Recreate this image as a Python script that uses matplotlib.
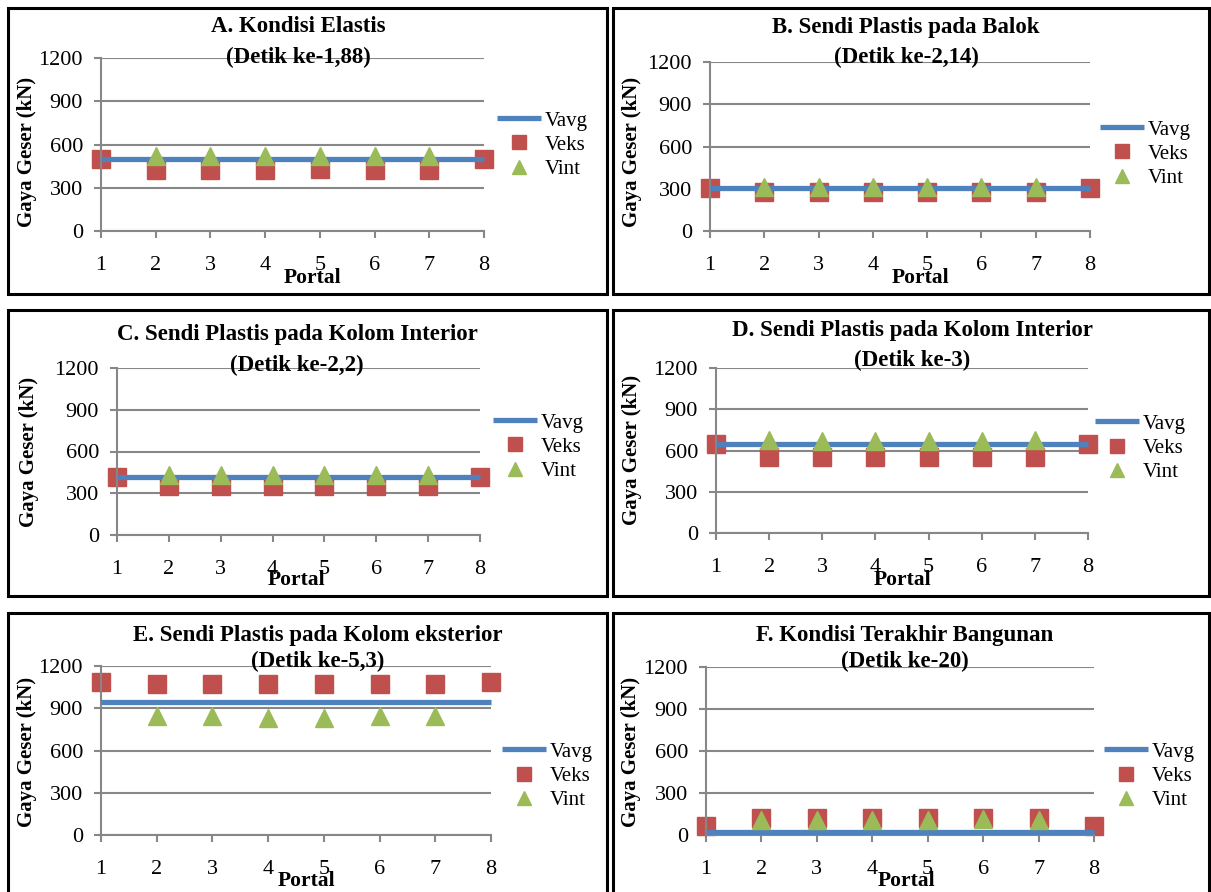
import numpy as np
import matplotlib
matplotlib.use("Agg")
import matplotlib.pyplot as plt
from matplotlib.patches import Rectangle

plt.rcParams['font.family'] = ['Liberation Serif', 'DejaVu Serif']

# -----------------------------
# Data
# -----------------------------
portal = [1, 2, 3, 4, 5, 6, 7, 8]
portal_int = [2, 3, 4, 5, 6, 7]

titles = [
    "A. Kondisi Elastis",
    "B. Sendi Plastis pada Balok",
    "C. Sendi Plastis pada Kolom Interior",
    "D. Sendi Plastis pada Kolom Interior",
    "E. Sendi Plastis pada Kolom eksterior",
    "F. Kondisi Terakhir Bangunan",
]
subtitles = [
    "(Detik ke-1,88)",
    "(Detik ke-2,14)",
    "(Detik ke-2,2)",
    "(Detik ke-3)",
    "(Detik ke-5,3)",
    "(Detik ke-20)",
]

vavg_a = [500, 500, 500, 500, 500, 500, 500, 500]
veks_a = [497, 425, 425, 425, 432, 425, 425, 497]
vint_a = [520, 520, 520, 520, 520, 520]

vavg_b = [302, 302, 302, 302, 302, 302, 302, 302]
veks_b = [302, 276, 276, 276, 276, 276, 276, 302]
vint_b = [309, 309, 309, 309, 309, 309]

vavg_c = [420, 420, 420, 420, 420, 420, 420, 420]
veks_c = [420, 355, 355, 355, 355, 355, 355, 420]
vint_c = [431, 431, 431, 431, 431, 431]

vavg_d = [645, 645, 645, 645, 645, 645, 645, 645]
veks_d = [645, 555, 555, 555, 555, 555, 555, 645]
vint_d = [675, 672, 670, 670, 670, 675]

vavg_e = [947, 947, 947, 947, 947, 947, 947, 947]
veks_e = [1087, 1072, 1072, 1070, 1072, 1072, 1072, 1089]
vint_e = [843, 843, 831, 831, 843, 843]

vavg_f = [19, 19, 19, 19, 19, 19, 19, 19]
veks_f = [66, 118, 118, 118, 118, 118, 118, 66]
vint_f = [106, 110, 106, 106, 113, 106]

yticks = [0, 300, 600, 900, 1200]

series = [
    (vavg_a, veks_a, vint_a),
    (vavg_b, veks_b, vint_b),
    (vavg_c, veks_c, vint_c),
    (vavg_d, veks_d, vint_d),
    (vavg_e, veks_e, vint_e),
    (vavg_f, veks_f, vint_f),
]

# -----------------------------
# Layout in pixels (width 1211, height 892)
# -----------------------------
W, H = 1211, 892
# box: left, top, right, bottom
boxes = [(8, 8, 607, 294), (613, 8, 1209, 294),
         (8, 310, 607, 596), (613, 310, 1209, 596),
         (8, 613, 607, 905), (613, 613, 1209, 905)]
# axes: x of portal 1, x of portal 8, y of 0, y of 1200
axes_px = [(101, 484, 231, 58), (710, 1090, 231, 62),
           (117, 480, 535, 368), (716, 1088, 533, 368),
           (101, 491, 835, 666), (706, 1094, 835, 667)]
# title centres: x, y line 1, y line 2
title_px = [(298, 27, 57), (906, 27, 57),
            (297, 334, 365), (912, 330, 360),
            (318, 636, 661), (905, 636, 661)]
ylabel_px = [(27, 152), (632, 152), (29, 452), (632, 450), (27, 752), (631, 752)]
xlabel_px = [(312, 278), (921, 278), (297, 580), (903, 580), (307, 881), (907, 881)]
legend_px = [(497, 145), (1100, 154), (493, 447), (1095, 448), (502, 776), (1104, 776)]

blue = '#4F81BD'
red = '#C0504D'
green = '#9BBB59'
grid_c = '#878787'


def fx(x):
    return x / W


def fy(y):
    return 1 - y / H


fig = plt.figure(figsize=(W / 100, H / 100), dpi=100)
fig.patch.set_facecolor('white')

for i in range(6):
    l, t, r, b = boxes[i]
    fig.patches.append(Rectangle((fx(l), fy(b)), fx(r - l), (b - t) / H,
                                 transform=fig.transFigure, fill=False,
                                 edgecolor='black', linewidth=2.2, zorder=0))

    x0, x1, y0, y1 = axes_px[i]
    ax = fig.add_axes([fx(x0), fy(y0), fx(x1 - x0), (y0 - y1) / H])
    vavg, veks, vint = series[i]

    ax.plot(portal, vavg, color=blue, linewidth=3.8, label='Vavg',
            solid_capstyle='butt', zorder=3, clip_on=False)
    ax.plot(portal, veks, linestyle='none', marker='s', markersize=12.5,
            color=red, label='Veks', zorder=2, clip_on=False)
    ax.plot(portal_int, vint, linestyle='none', marker='^', markersize=13.5,
            color=green, label='Vint', zorder=4, clip_on=False)

    ax.set_xlim(1, 8)
    ax.set_ylim(0, 1200)
    ax.set_xticks(portal)
    ax.set_yticks(yticks)
    ax.yaxis.grid(True, color=grid_c, linewidth=1.5)
    ax.set_axisbelow(True)
    for s in ['top', 'right']:
        ax.spines[s].set_visible(False)
    for s in ['left', 'bottom']:
        ax.spines[s].set_color(grid_c)
        ax.spines[s].set_linewidth(1.5)
    ax.tick_params(axis='x', direction='out', length=5, width=1.5,
                   color=grid_c, pad=13, labelsize=16)
    ax.tick_params(axis='y', direction='out', length=5, width=1.5,
                   color=grid_c, pad=8, labelsize=16)

    tx, ty1, ty2 = title_px[i]
    fig.text(fx(tx), fy(ty1), titles[i], ha='center', va='center',
             fontsize=16.5, fontweight='bold')
    fig.text(fx(tx), fy(ty2), subtitles[i], ha='center', va='center',
             fontsize=16.5, fontweight='bold')

    lx, ly = ylabel_px[i]
    fig.text(fx(lx), fy(ly), 'Gaya Geser (kN)', rotation=90, ha='center',
             va='center', fontsize=15, fontweight='bold')
    px, py = xlabel_px[i]
    fig.text(fx(px), fy(py), 'Portal', ha='center', va='center',
             fontsize=15.5, fontweight='bold')

    gx, gy = legend_px[i]
    ax.legend(loc='center left', bbox_to_anchor=(fx(gx), fy(gy)),
              bbox_transform=fig.transFigure, frameon=False, fontsize=15,
              handlelength=2.1, handletextpad=0.2, labelspacing=0.22,
              borderpad=0, borderaxespad=0, markerscale=0.75)

fig.savefig('out.png', dpi=100)
